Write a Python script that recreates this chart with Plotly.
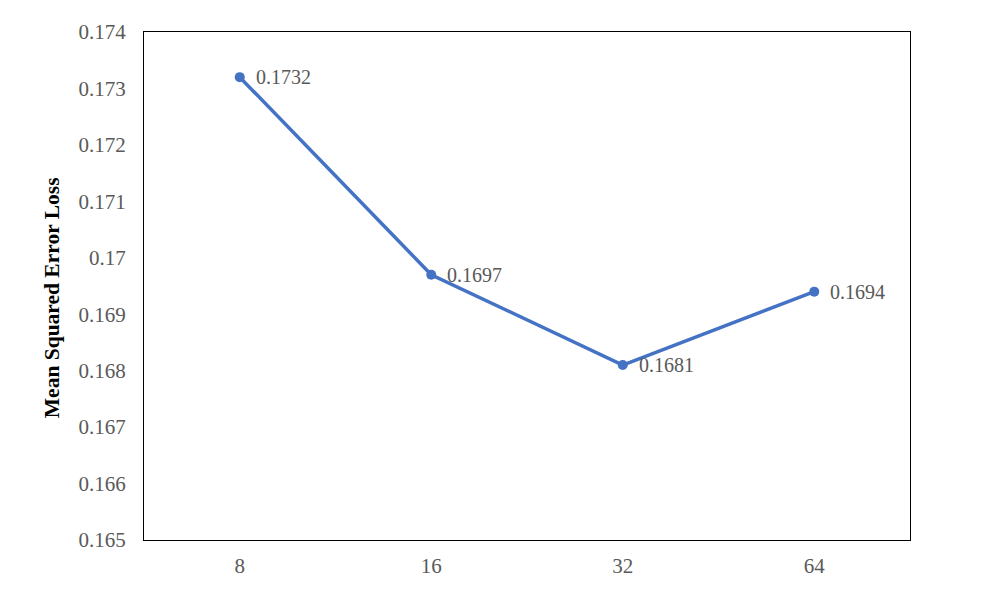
import plotly.graph_objects as go

categories = ["8", "16", "32", "64"]
mse_loss = [0.1732, 0.1697, 0.1681, 0.1694]
label_text = ["0.1732", "0.1697", "0.1681", "0.1694"]
y_ticks = [0.165, 0.166, 0.167, 0.168, 0.169, 0.17, 0.171, 0.172, 0.173, 0.174]
y_tick_text = ["0.165", "0.166", "0.167", "0.168", "0.169", "0.17", "0.171", "0.172", "0.173", "0.174"]
y_title = "Mean Squared Error Loss"

font_family = "Liberation Serif, Times New Roman, serif"
grey = "#595959"
blue = "#4472C4"

fig = go.Figure()
fig.add_trace(go.Scatter(
    x=categories, y=mse_loss, mode="lines+markers",
    line=dict(color=blue, width=3.5),
    marker=dict(color=blue, size=10),
    showlegend=False, cliponaxis=False,
))

for i, (val, lbl) in enumerate(zip(mse_loss, label_text)):
    fig.add_annotation(
        x=i, y=val, text=lbl, showarrow=False,
        xanchor="left", yanchor="middle", xshift=14,
        font=dict(family=font_family, size=20, color=grey),
    )

fig.add_annotation(
    xref="paper", yref="paper", x=-0.1201, y=0.476,
    text="<b>" + y_title + "</b>", textangle=-90, showarrow=False,
    xanchor="center", yanchor="middle",
    font=dict(family=font_family, size=21.5, color="black"),
)

fig.update_layout(
    width=996, height=598,
    margin=dict(l=136, r=94, t=24, b=66),
    paper_bgcolor="white", plot_bgcolor="white",
    font=dict(family=font_family, size=20, color=grey),
    xaxis=dict(
        type="category", range=[-0.5, 3.5],
        showgrid=False, zeroline=False,
        showline=True, linecolor="black", linewidth=1, mirror=True,
        ticks="", ticklabelstandoff=7,
        tickfont=dict(family=font_family, size=21, color=grey),
    ),
    yaxis=dict(
        range=[0.165, 0.174], tickvals=y_ticks, ticktext=y_tick_text,
        showgrid=False, zeroline=False,
        showline=True, linecolor="black", linewidth=1, mirror=True,
        ticks="", ticklabelstandoff=13,
        tickfont=dict(family=font_family, size=21, color=grey),
    ),
)

fig.write_html("out.html")
